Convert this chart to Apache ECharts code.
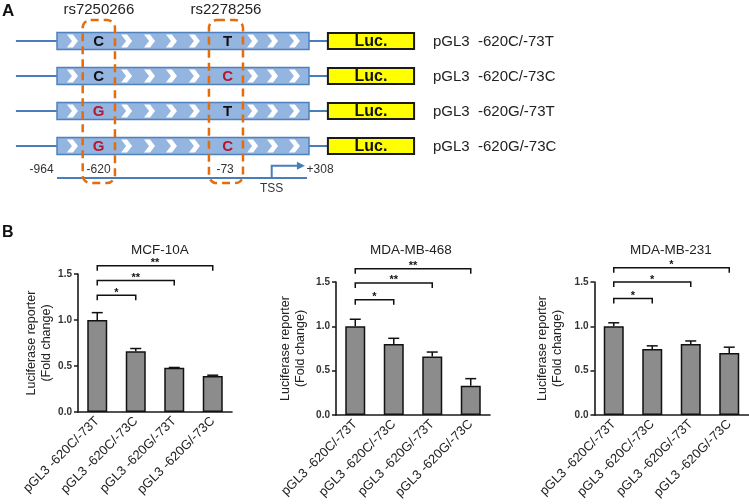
<!DOCTYPE html>
<html><head><meta charset="utf-8">
<script src="https://cdn.jsdelivr.net/npm/echarts@6/dist/echarts.min.js"></script>
<style>html,body{margin:0;padding:0;background:#fff}#c{width:749px;height:504px}</style>
</head><body><div id="c"></div>
<script>
// ---------- Panel A data (schematic) ----------
const constructs = ['pGL3  -620C/-73T', 'pGL3  -620C/-73C', 'pGL3  -620G/-73T', 'pGL3  -620G/-73C'];
const allele620 = ['C', 'C', 'G', 'G'];
const allele73 = ['T', 'C', 'T', 'C'];
const refAlleles = ['C', 'T'];
const snpNames = ['rs7250266', 'rs2278256'];
const positionLabels = ['-964', '-620', '-73', '+308'];
const tssLabel = 'TSS';
const reporterLabel = 'Luc.';

// ---------- Panel B data ----------
const categories = ['pGL3 -620C/-73T', 'pGL3 -620C/-73C', 'pGL3 -620G/-73T', 'pGL3 -620G/-73C'];
const cellLines = ['MCF-10A', 'MDA-MB-468', 'MDA-MB-231'];
const mcf10aMean = [1.00, 0.66, 0.48, 0.39];
const mcf10aErr  = [0.08, 0.03, 0.004, 0.01];
const mb468Mean  = [1.00, 0.80, 0.66, 0.33];
const mb468Err   = [0.08, 0.065, 0.05, 0.08];
const mb231Mean  = [1.00, 0.745, 0.80, 0.70];
const mb231Err   = [0.04, 0.035, 0.035, 0.065];
const mcf10aSig = ['*', '**', '**'];
const mb468Sig  = ['*', '**', '**'];
const mb231Sig  = ['*', '*', '*'];
const yTickLabels = ['0.0', '0.5', '1.0', '1.5'];

// ---------- layout (not data) ----------
const FONT = 'Arial, "Liberation Sans", Helvetica, sans-serif';
const S = { // schematic units
  lineStart: -16.3, boxEnd: 100, lucStart: 107.5, lucEnd: 141.7, labelX: 149.2,
  snpX: [16.5, 67.7], snpBox: [[10.2, 23.0], [60.3, 73.8]],
  chevrons: [8.3, 29.8, 38.9, 47.6, 56.7, 79.8, 87.7, 96.4],
  posX: [-6.1, 16.5, 66.7, 104.4], posRow: 4.69, scaleRow: 4.914, scaleEnd: 99.2,
  tssX: 85.2, tssTopRow: 4.563, tssEndX: 98.4, tssLabelRow: 5.21,
  boxTopRow: 0.4, boxBottomRow: 5.06, rsRow: 0.1
};
const panels = [
  {name: cellLines[0], mean: mcf10aMean, err: mcf10aErr, sig: mcf10aSig,
   grid: {left: 78, top: 274, width: 154, height: 138}, titleX: 160, nameGap: 22, levels: [1.27, 1.43, 1.59]},
  {name: cellLines[1], mean: mb468Mean, err: mb468Err, sig: mb468Sig,
   grid: {left: 336, top: 282, width: 154, height: 133}, titleX: 411, nameGap: 28, levels: [1.30, 1.49, 1.65]},
  {name: cellLines[2], mean: mb231Mean, err: mb231Err, sig: mb231Sig,
   grid: {left: 594.5, top: 282, width: 154, height: 133}, titleX: 671, nameGap: 29, levels: [1.315, 1.50, 1.66]}
];

const chart = echarts.init(document.getElementById('c'), null, {renderer: 'canvas'});

const BLUE = '#4a7ebb';
const ORANGE = '#e46c0a';
const RED = '#b5172b';

function renderRow(params, api) {
  const i = params.dataIndex;
  const r = api.value(1);
  const c = (x) => api.coord([x, r]);
  const p0 = c(S.lineStart), p1 = c(0), p2 = c(S.boxEnd), p3 = c(S.lucStart), p4 = c(S.lucEnd), pl = c(S.labelX);
  const y = p1[1];
  const ch = [];
  ch.push({type: 'line', shape: {x1: p0[0], y1: y, x2: p1[0], y2: y}, style: {stroke: BLUE, lineWidth: 2}});
  ch.push({type: 'line', shape: {x1: p2[0], y1: y, x2: p3[0], y2: y}, style: {stroke: BLUE, lineWidth: 2}});
  ch.push({type: 'rect', shape: {x: p1[0], y: y - 8.5, width: p2[0] - p1[0], height: 17},
           style: {fill: '#93b5e0', stroke: '#4f81bd', lineWidth: 1.5}});
  S.chevrons.forEach(cx => {
    const t = c(cx)[0];
    ch.push({type: 'polygon', shape: {points: [[t - 11, y - 6.5], [t - 5, y - 6.5], [t, y], [t - 5, y + 6.5], [t - 11, y + 6.5], [t - 6, y]]},
             style: {fill: '#ffffff'}});
  });
  ch.push({type: 'rect', shape: {x: p3[0], y: y - 8, width: p4[0] - p3[0], height: 16},
           style: {fill: '#ffff00', stroke: '#1a1a1a', lineWidth: 2}});
  ch.push({type: 'text', style: {text: reporterLabel, x: (p3[0] + p4[0]) / 2, y: y + 0.5, align: 'center', verticalAlign: 'middle',
           font: 'bold 16px ' + FONT, fill: '#111'}});
  ch.push({type: 'text', style: {text: constructs[i], x: pl[0], y: y + 0.5, align: 'left', verticalAlign: 'middle',
           font: '15px ' + FONT, fill: '#222'}});
  const alle = [allele620[i], allele73[i]];
  alle.forEach((a, k) => {
    const p = c(S.snpX[k]);
    ch.push({type: 'text', style: {text: a, x: p[0], y: y + 0.5, align: 'center', verticalAlign: 'middle',
             font: 'bold 15px ' + FONT, fill: a === refAlleles[k] ? '#111' : RED}});
  });
  return {type: 'group', children: ch};
}

function renderSnpBox(params, api) {
  const k = params.dataIndex;
  const a = api.coord([S.snpBox[k][0], S.boxTopRow]);
  const b = api.coord([S.snpBox[k][1], S.boxBottomRow]);
  const t = api.coord([(S.snpBox[k][0] + S.snpBox[k][1]) / 2, S.rsRow]);
  return {type: 'group', children: [
    {type: 'rect', shape: {x: a[0], y: a[1], width: b[0] - a[0], height: b[1] - a[1], r: 8},
     style: {fill: null, stroke: ORANGE, lineWidth: 2.5, lineDash: [8, 5]}},
    {type: 'text', style: {text: snpNames[k], x: t[0], y: t[1], align: 'center', verticalAlign: 'middle',
     font: '15px ' + FONT, fill: '#222'}}
  ]};
}

function renderScale(params, api) {
  const s0 = api.coord([0, S.scaleRow]), s1 = api.coord([S.scaleEnd, S.scaleRow]);
  const tb = api.coord([S.tssX, S.scaleRow]), tt = api.coord([S.tssX, S.tssTopRow]), te = api.coord([S.tssEndX, S.tssTopRow]);
  const tl = api.coord([S.tssX, S.tssLabelRow]);
  const ch = [
    {type: 'line', shape: {x1: s0[0], y1: s0[1], x2: s1[0], y2: s1[1]}, style: {stroke: BLUE, lineWidth: 2}},
    {type: 'polyline', shape: {points: [[tb[0], tb[1]], [tt[0], tt[1]], [te[0] - 6, te[1]]]}, style: {stroke: BLUE, lineWidth: 2, fill: null}},
    {type: 'polygon', shape: {points: [[te[0] - 8, te[1] - 4], [te[0], te[1]], [te[0] - 8, te[1] + 4]]}, style: {fill: BLUE}},
    {type: 'text', style: {text: tssLabel, x: tl[0], y: tl[1], align: 'center', verticalAlign: 'middle', font: '12px ' + FONT, fill: '#333'}}
  ];
  positionLabels.forEach((lab, k) => {
    const p = api.coord([S.posX[k], S.posRow]);
    ch.push({type: 'text', style: {text: lab, x: p[0], y: p[1], align: 'center', verticalAlign: 'middle', font: '12px ' + FONT, fill: '#333'}});
  });
  return {type: 'group', children: ch};
}

function errRenderer(params, api) {
  const x = api.value(0), m = api.value(1), e = api.value(2);
  const a = api.coord([x, m]), b = api.coord([x, m + e]);
  const hw = 5.5;
  return {type: 'group', children: [
    {type: 'line', shape: {x1: a[0], y1: a[1], x2: b[0], y2: b[1]}, style: {stroke: '#111', lineWidth: 1.5}},
    {type: 'line', shape: {x1: b[0] - hw, y1: b[1], x2: b[0] + hw, y2: b[1]}, style: {stroke: '#111', lineWidth: 1.5}}
  ]};
}

function bracketRendererFor(sig) {
  return function (params, api) {
    const j = api.value(0), lvl = api.value(1);
    const a = api.coord([0, lvl]), b = api.coord([j, lvl]);
    const leg = 5;
    return {type: 'group', children: [
      {type: 'polyline', shape: {points: [[a[0], a[1] + leg], [a[0], a[1]], [b[0], b[1]], [b[0], b[1] + leg]]},
       style: {stroke: '#111', lineWidth: 1.5, fill: null}},
      {type: 'text', style: {text: sig[params.dataIndex], x: (a[0] + b[0]) / 2, y: a[1] + 3, align: 'center', verticalAlign: 'bottom',
       font: 'bold 11px ' + FONT, fill: '#111'}}
    ]};
  };
}

const grids = [{left: 57, top: 6, width: 252, height: 210}];
const xAxes = [{gridIndex: 0, type: 'value', min: 0, max: 100, show: false}];
const yAxes = [{gridIndex: 0, type: 'value', min: 0, max: 6, inverse: true, show: false}];
const series = [
  {type: 'custom', xAxisIndex: 0, yAxisIndex: 0, clip: false, silent: true, renderItem: renderRow,
   encode: {x: 0, y: 1}, data: constructs.map((_, i) => [0, i + 1]), z: 2},
  {type: 'custom', xAxisIndex: 0, yAxisIndex: 0, clip: false, silent: true, renderItem: renderSnpBox,
   encode: {x: 0, y: 1}, data: snpNames.map((_, k) => [0, 0]), z: 3},
  {type: 'custom', xAxisIndex: 0, yAxisIndex: 0, clip: false, silent: true, renderItem: renderScale,
   encode: {x: 0, y: 1}, data: [[0, 0]], z: 2}
];
const titles = [];

panels.forEach((p, n) => {
  const gi = n + 1;
  grids.push(p.grid);
  xAxes.push({
    gridIndex: gi, type: 'category', data: categories,
    axisLine: {lineStyle: {color: '#1a1a1a', width: 1.6}},
    axisTick: {alignWithLabel: true, length: 4, lineStyle: {color: '#1a1a1a', width: 1.5}},
    axisLabel: {rotate: 45, interval: 0, fontSize: 13, fontFamily: FONT, color: '#222', margin: 7}
  });
  yAxes.push({
    gridIndex: gi, type: 'value', min: 0, max: 1.5, interval: 0.5,
    name: 'Luciferase reporter\n(Fold change)', nameLocation: 'middle', nameRotate: 90, nameGap: p.nameGap,
    nameTextStyle: {fontSize: 12.5, fontFamily: FONT, color: '#222', lineHeight: 15},
    axisLine: {show: true, lineStyle: {color: '#1a1a1a', width: 1.6}},
    axisTick: {show: true, length: 4, lineStyle: {color: '#1a1a1a', width: 1.5}},
    axisLabel: {fontSize: 10, fontWeight: 'bold', fontFamily: FONT, color: '#333', margin: 6,
                formatter: v => yTickLabels[Math.round(v / 0.5)]},
    splitLine: {show: false}
  });
  series.push({type: 'bar', xAxisIndex: gi, yAxisIndex: gi, data: p.mean, barWidth: 20, silent: true,
    itemStyle: {color: '#8c8c8c', borderColor: '#111', borderWidth: 1.5}});
  series.push({type: 'custom', xAxisIndex: gi, yAxisIndex: gi, clip: false, silent: true, renderItem: errRenderer,
    encode: {x: 0, y: 1}, data: p.mean.map((m, k) => [k, m, p.err[k]]), z: 3});
  series.push({type: 'custom', xAxisIndex: gi, yAxisIndex: gi, clip: false, silent: true, renderItem: bracketRendererFor(p.sig),
    encode: {x: 0, y: 1}, data: p.sig.map((s, j) => [j + 1, p.levels[j]]), z: 3});
  titles.push({text: p.name, left: p.titleX, top: 243, textAlign: 'center', padding: 0,
    textStyle: {fontSize: 13.5, fontWeight: 'normal', fontFamily: FONT, color: '#222'}});
});

chart.setOption({
  animation: false,
  backgroundColor: '#ffffff',
  title: titles,
  grid: grids,
  xAxis: xAxes,
  yAxis: yAxes,
  series: series,
  graphic: [
    {type: 'text', left: 2, top: 3, style: {text: 'A', font: 'bold 17px ' + FONT, fill: '#111'}},
    {type: 'text', left: 2, top: 225, style: {text: 'B', font: 'bold 16px ' + FONT, fill: '#111'}}
  ]
});
</script>
</body></html>
